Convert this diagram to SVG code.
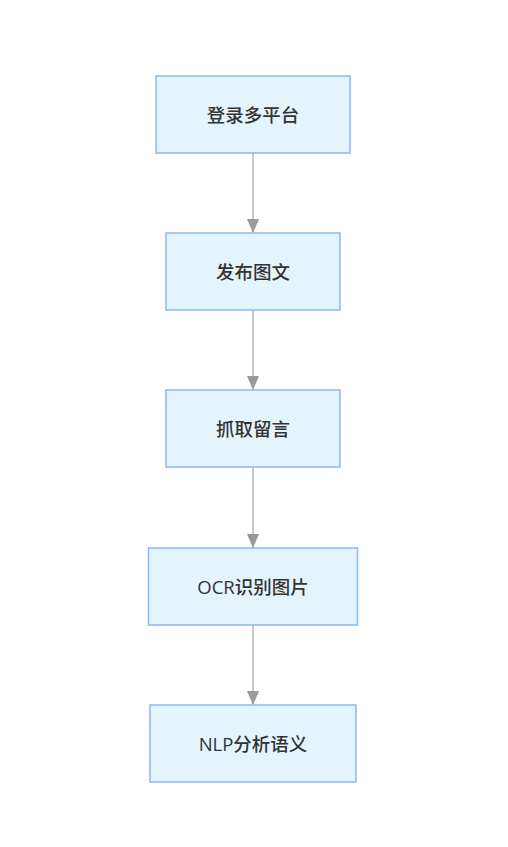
<svg xmlns="http://www.w3.org/2000/svg" width="508" height="847" viewBox="0 0 508 847">
<style>
.node rect{fill:#e3f4fd;stroke:#8db6f7;stroke-width:1.5}
.node text{font-family:"Open Sans","Noto Sans CJK SC",sans-serif;font-size:18.5px;font-weight:500;fill:#333;text-anchor:middle;dominant-baseline:central}
.edge{stroke:#c8c8c8;stroke-width:2;fill:none}
</style>
<defs>
<marker id="arr" markerWidth="14" markerHeight="12" refX="14" refY="6" orient="auto" markerUnits="userSpaceOnUse">
<path d="M0,0 L14,6 L0,12 Z" fill="#999"/>
</marker>
</defs>
<rect width="508" height="847" fill="#fff"/>
<g id="connectors">
<line class="edge" x1="253" y1="153" x2="253" y2="233" marker-end="url(#arr)"/>
<line class="edge" x1="253" y1="310" x2="253" y2="390" marker-end="url(#arr)"/>
<line class="edge" x1="253" y1="467" x2="253" y2="548" marker-end="url(#arr)"/>
<line class="edge" x1="253" y1="625" x2="253" y2="705" marker-end="url(#arr)"/>
</g>
<g id="n1" class="node"><rect x="156" y="76" width="194" height="77"/><text x="253" y="114.5">登录多平台</text></g>
<g id="n2" class="node"><rect x="166" y="233" width="174" height="77"/><text x="253" y="271.5">发布图文</text></g>
<g id="n3" class="node"><rect x="166" y="390" width="174" height="77"/><text x="253" y="428.5">抓取留言</text></g>
<g id="n4" class="node"><rect x="148.5" y="548" width="209" height="77"/><text x="253" y="586.5">OCR识别图片</text></g>
<g id="n5" class="node"><rect x="150" y="705" width="206" height="77"/><text x="253" y="743.5">NLP分析语义</text></g>
</svg>
